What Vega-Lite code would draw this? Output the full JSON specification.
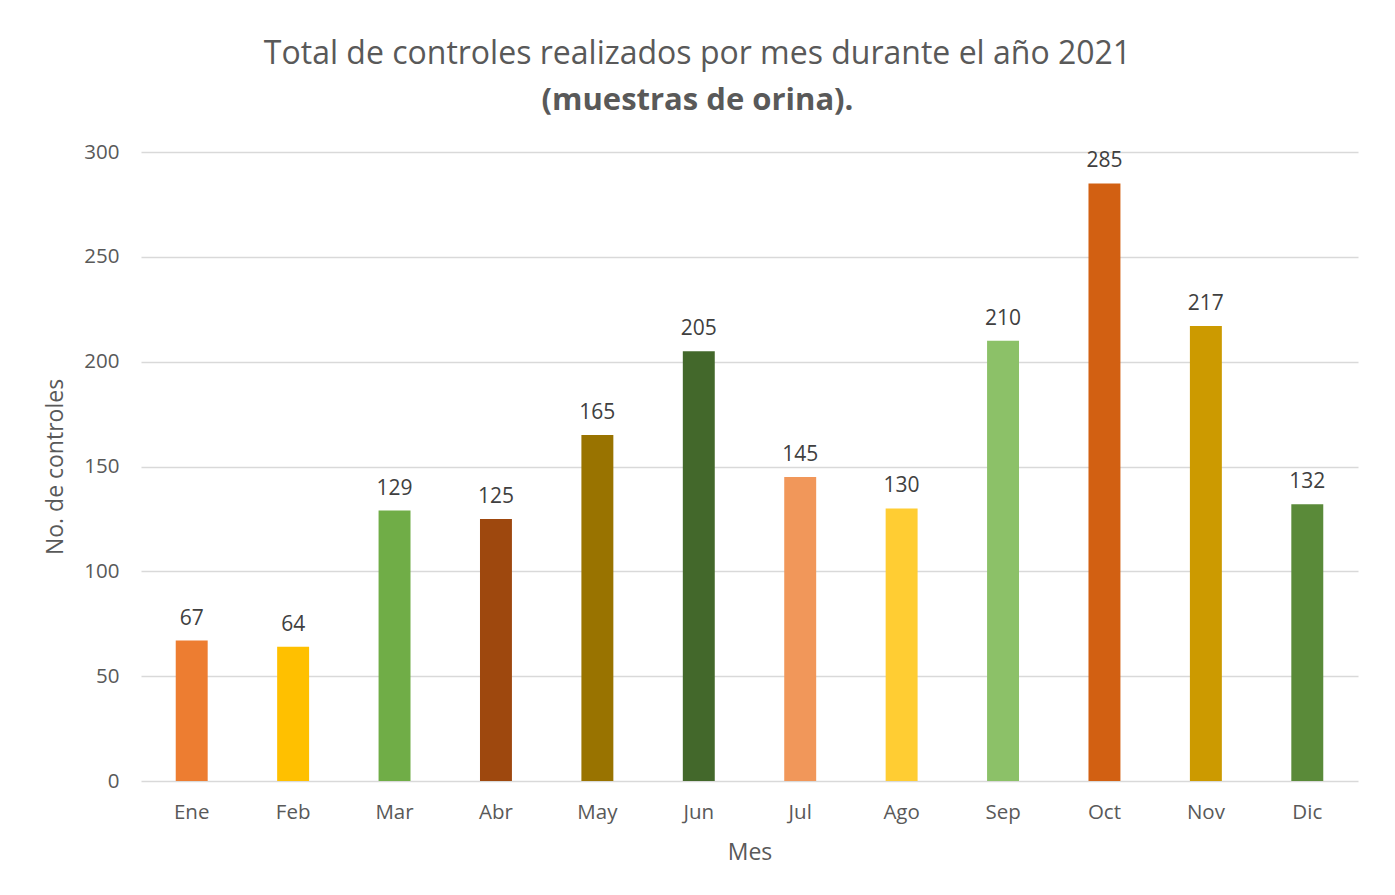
{
  "$schema": "https://vega.github.io/schema/vega-lite/v6.json",
  "autosize": "none",
  "width": 1217,
  "height": 629,
  "padding": {"left": 141, "top": 152, "right": 37, "bottom": 114},
  "background": "white",
  "config": {
    "font": "Open Sans",
    "view": {"stroke": null},
    "axis": {"labelFont": "Open Sans", "titleFont": "Open Sans", "labelColor": "#595959", "titleColor": "#595959", "labelFontSize": 20.5, "titleFontSize": 23, "titleFontWeight": "normal"}
  },
  "title": {
    "text": "Total de controles realizados por mes durante el año 2021",
    "subtitle": "(muestras de orina).",
    "anchor": "middle",
    "dx": -52,
    "font": "Open Sans",
    "fontSize": 32,
    "fontWeight": "normal",
    "color": "#595959",
    "subtitleFont": "Open Sans",
    "subtitleFontSize": 31,
    "subtitleFontWeight": "bold",
    "subtitleColor": "#595959",
    "subtitlePadding": 15,
    "offset": 25
  },
  "data": {
    "values": [
      {"mes": "Ene", "valor": 67, "color": "#ED7D31"},
      {"mes": "Feb", "valor": 64, "color": "#FFC000"},
      {"mes": "Mar", "valor": 129, "color": "#70AD47"},
      {"mes": "Abr", "valor": 125, "color": "#9E480E"},
      {"mes": "May", "valor": 165, "color": "#997300"},
      {"mes": "Jun", "valor": 205, "color": "#43682B"},
      {"mes": "Jul", "valor": 145, "color": "#F1975A"},
      {"mes": "Ago", "valor": 130, "color": "#FFCD33"},
      {"mes": "Sep", "valor": 210, "color": "#8CC168"},
      {"mes": "Oct", "valor": 285, "color": "#D26012"},
      {"mes": "Nov", "valor": 217, "color": "#CC9A00"},
      {"mes": "Dic", "valor": 132, "color": "#5A8A39"}
    ]
  },
  "encoding": {
    "x": {
      "field": "mes",
      "type": "nominal",
      "sort": null,
      "scale": {"paddingInner": 0.685, "paddingOuter": 0.3425},
      "axis": {"title": "Mes", "labelAngle": 0, "labelPadding": 21, "titlePadding": 19, "ticks": false, "domain": false, "grid": false}
    },
    "y": {
      "field": "valor",
      "type": "quantitative",
      "scale": {"domain": [0, 300], "nice": false},
      "axis": {"title": "No. de controles", "values": [0, 50, 100, 150, 200, 250, 300], "ticks": false, "domain": false, "gridColor": "#D9D9D9", "gridWidth": 1.5, "labelPadding": 22, "titlePadding": 16}
    }
  },
  "layer": [
    {
      "mark": {"type": "bar"},
      "encoding": {"color": {"field": "color", "type": "nominal", "scale": null}}
    },
    {
      "mark": {"type": "text", "baseline": "bottom", "dy": -12, "fontSize": 21, "color": "#404040", "font": "Open Sans"},
      "encoding": {"text": {"field": "valor", "type": "quantitative"}}
    }
  ]
}
